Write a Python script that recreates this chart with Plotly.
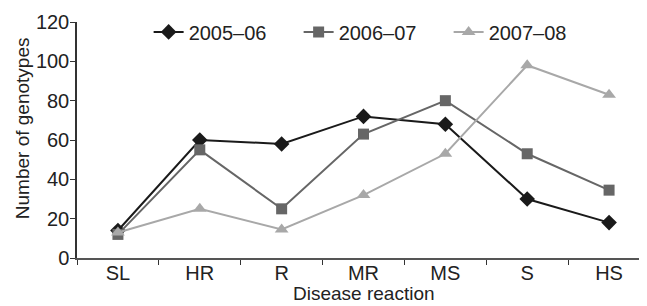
import plotly.graph_objects as go

categories = ["SL", "HR", "R", "MR", "MS", "S", "HS"]
s2005 = [14, 60, 58, 72, 68, 30, 18]
s2006 = [12, 55, 25, 63, 80, 53, 34.5]
s2007 = [13, 25, 14.5, 32, 53, 98, 83]
names = ["2005\u201306", "2006\u201307", "2007\u201308"]

fig = go.Figure()
styles = [
    ("#1a1a1a", "diamond", 12),
    ("#666666", "square", 11),
    ("#a8a8a8", "triangle-up", 12),
]
for name, vals, (col, sym, sz) in zip(names, [s2005, s2006, s2007], styles):
    fig.add_trace(go.Scatter(
        x=categories, y=vals, name=name, mode="lines+markers",
        line=dict(color=col, width=2),
        marker=dict(color=col, symbol=sym, size=sz),
    ))

font = "Liberation Sans, Arial, sans-serif"
fig.update_layout(
    width=647, height=306,
    margin=dict(l=69, r=5, t=14, b=56, autoexpand=False),
    paper_bgcolor="white", plot_bgcolor="white",
    font=dict(family=font, size=20, color="#222222"),
    showlegend=True,
    legend=dict(orientation="h", x=0.125, y=0.958, xanchor="left", yanchor="middle",
                font=dict(size=20), bgcolor="rgba(0,0,0,0)",
                entrywidth=105, entrywidthmode="pixels",
                traceorder="normal"),
    xaxis=dict(
        type="category", range=[-0.5, 6.5], automargin=False,
        showline=True, linecolor="#555555", linewidth=1.5,
        ticks="outside", tickson="boundaries", ticklen=5, tickcolor="#333333",
        showgrid=False, zeroline=False, ticklabelstandoff=-4,
        tickfont=dict(size=20),
    ),
    yaxis=dict(
        range=[0, 120], tickvals=[0, 20, 40, 60, 80, 100, 120], automargin=False,
        showline=True, linecolor="#333333", linewidth=1.5,
        ticks="outside", ticklen=5, tickcolor="#333333",
        showgrid=False, zeroline=False, ticklabelstandoff=-3,
        tickfont=dict(size=20),
    ),
    annotations=[
        dict(text="Disease reaction", xref="paper", yref="paper", x=0.5, y=-0.097,
             xanchor="center", yanchor="top", showarrow=False, font=dict(size=19)),
        dict(text="Number of genotypes", xref="paper", yref="paper", x=-0.096, y=0.55,
             xanchor="center", yanchor="middle", textangle=-90, showarrow=False,
             font=dict(size=19)),
    ],
)

fig.write_html("out.html")
